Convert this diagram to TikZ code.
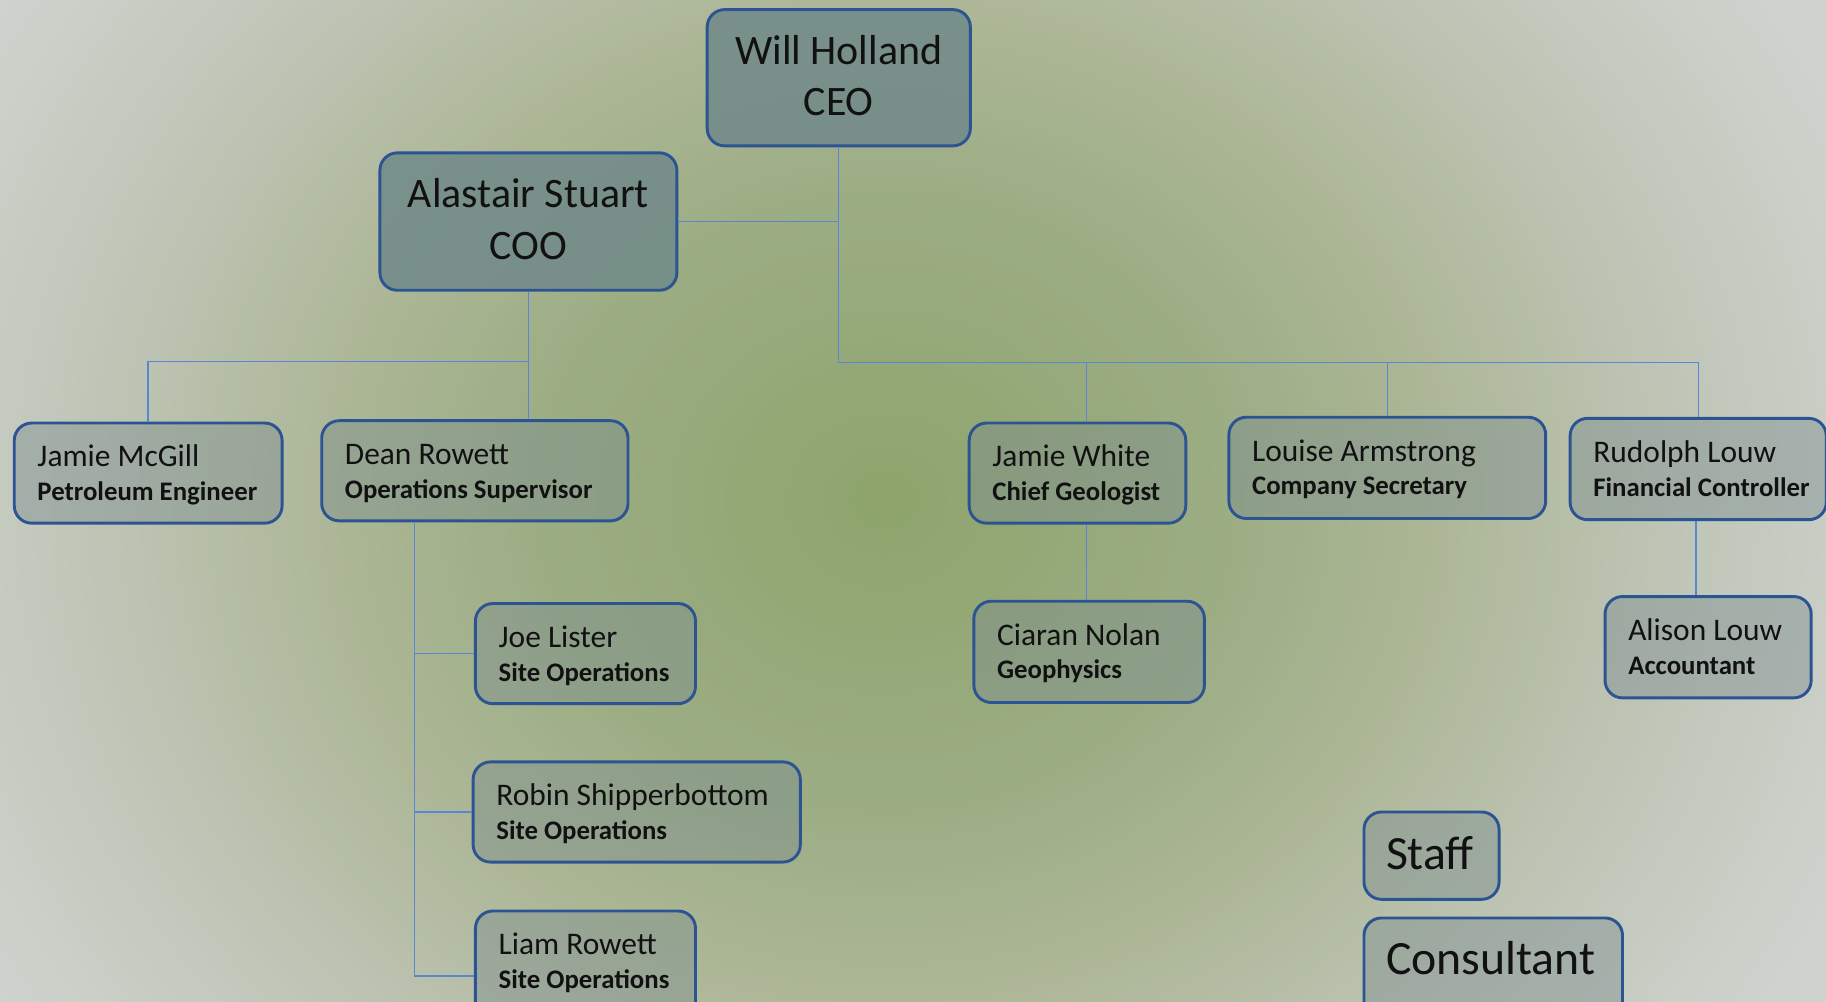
\documentclass[tikz,border=0pt]{standalone}
\usepackage{fontspec}
\setmainfont{Carlito}
\usetikzlibrary{calc}
\definecolor{bg0}{HTML}{8EA46C}
\definecolor{bg1}{HTML}{9CAD84}
\definecolor{bg2}{HTML}{ADB797}
\definecolor{bg3}{HTML}{BCC3B2}
\definecolor{bg4}{HTML}{C8CDC4}
\definecolor{bg5}{HTML}{CFD3CE}
\definecolor{boxblue}{HTML}{2C5492}
\definecolor{boxfill}{HTML}{7A8C8E}
\definecolor{topfill}{HTML}{708A88}
\definecolor{connblue}{HTML}{5A86D6}
\definecolor{txt}{HTML}{111111}
\pgfdeclareradialshading{bgshade}{\pgfpoint{0bp}{0bp}}{color(0bp)=(bg0); color(8.3bp)=(bg1); color(13.3bp)=(bg2); color(18bp)=(bg3); color(22.2bp)=(bg4); color(25bp)=(bg5); color(50bp)=(bg5)}
\begin{document}
\begin{tikzpicture}[x=1pt,y=-1pt,
  box/.style={draw=boxblue, line width=2.5pt, rounded corners=15pt, fill=boxfill, fill opacity=0.43, anchor=north west, inner sep=0pt},
  topbox/.style={box, fill=topfill, fill opacity=0.85},
  conn/.style={draw=connblue, line width=1.2pt},
  nm/.style={anchor=base west, inner sep=0pt, font=\fontsize{27}{32}\selectfont, text=txt},
  ttl/.style={anchor=base west, inner sep=0pt, font=\fontsize{23}{28}\selectfont\bfseries, text=txt},
  big/.style={anchor=base, inner sep=0pt, font=\fontsize{36}{43}\selectfont, text=txt},
  leg/.style={anchor=base west, inner sep=0pt, font=\fontsize{41}{48}\selectfont, text=txt}]
\useasboundingbox (0,0) rectangle (1568,860);
\begin{scope}
\clip (0,0) rectangle (1568,860);
\shade[shading=bgshade] (-140,-370) rectangle (1660,1230);

% boxes (geometry)
\path
  node[topbox, minimum width=226, minimum height=117] (ceo) at (606,7) {}
  node[topbox, minimum width=255, minimum height=118] (coo) at (325,130) {}
  node[box, minimum width=230, minimum height=86] (mcgill) at (11,362) {}
  node[box, minimum width=263, minimum height=86] (dean) at (275,360) {}
  node[box, minimum width=186, minimum height=86] (jwhite) at (831,362) {}
  node[box, minimum width=272, minimum height=87] (louise) at (1054,357) {}
  node[box, minimum width=220, minimum height=87] (rudolph) at (1347,358) {}
  node[box, minimum width=189, minimum height=86] (joe) at (407,517) {}
  node[box, minimum width=281, minimum height=86] (robin) at (405,653) {}
  node[box, minimum width=189, minimum height=112] (liam) at (407,781) {}
  node[box, minimum width=198, minimum height=87] (ciaran) at (835,515) {}
  node[box, minimum width=177, minimum height=87] (alison) at (1377,511) {}
  node[box, minimum width=116, minimum height=75] (staff) at (1170,696) {}
  node[box, minimum width=222, minimum height=90] (consult) at (1170,787) {};

% connectors
\path (ceo.south) ++(0,185) coordinate (bar);
\path (bar) ++(212.5,0) coordinate (jwbar);
\path (coo.south) ++(0,60) coordinate (cbar);
\path (dean.south) ++(-52,0) coordinate (dtop);
\path (rudolph.south) ++(-2,0) coordinate (rbot);
\draw[conn] (ceo.south) -- (bar) -- (bar -| rudolph.north) -- (rudolph.north);
\draw[conn] (coo.east) -- (coo.east -| ceo.south);
\draw[conn] (bar -| louise.north) -- (louise.north);
\draw[conn] (jwbar) -- (jwbar |- jwhite.north);
\draw[conn] (jwbar |- jwhite.south) -- (jwbar |- ciaran.north);
\draw[conn] (rbot) -- (rbot |- alison.north);
\draw[conn] (coo.south) -- (coo.south |- dean.north);
\draw[conn] (cbar) -- (cbar -| mcgill.north) -- (mcgill.north);
\draw[conn] (dtop) -- (dtop |- liam.west) -- (liam.west);
\draw[conn] (dtop |- joe.west) -- (joe.west);
\draw[conn] (dtop |- robin.west) -- (robin.west);

% texts
\node[big] at ($(ceo.north)+(0,48)$) {Will Holland};
\node[big] at ($(ceo.north)+(0,92)$) {CEO};
\node[big] at ($(coo.north)+(0,48.5)$) {Alastair Stuart};
\node[big] at ($(coo.north)+(0,92.5)$) {COO};
\node[nm] at ($(mcgill.north west)+(21,39)$) {Jamie McGill};
\node[ttl] at ($(mcgill.north west)+(21,68)$) {Petroleum Engineer};
\node[nm] at ($(dean.north west)+(21,39)$) {Dean Rowett};
\node[ttl] at ($(dean.north west)+(21,68)$) {Operations Supervisor};
\node[nm] at ($(jwhite.north west)+(21,39)$) {Jamie White};
\node[ttl] at ($(jwhite.north west)+(21,68)$) {Chief Geologist};
\node[nm] at ($(louise.north west)+(21,39)$) {Louise Armstrong};
\node[ttl] at ($(louise.north west)+(21,68)$) {Company Secretary};
\node[nm] at ($(rudolph.north west)+(21,39)$) {Rudolph Louw};
\node[ttl] at ($(rudolph.north west)+(21,68)$) {Financial Controller};
\node[nm] at ($(joe.north west)+(21,39)$) {Joe Lister};
\node[ttl] at ($(joe.north west)+(21,68)$) {Site Operations};
\node[nm] at ($(robin.north west)+(21,39)$) {Robin Shipperbottom};
\node[ttl] at ($(robin.north west)+(21,68)$) {Site Operations};
\node[nm] at ($(liam.north west)+(21,39)$) {Liam Rowett};
\node[ttl] at ($(liam.north west)+(21,68)$) {Site Operations};
\node[nm] at ($(ciaran.north west)+(21,39)$) {Ciaran Nolan};
\node[ttl] at ($(ciaran.north west)+(21,68)$) {Geophysics};
\node[nm] at ($(alison.north west)+(21,39)$) {Alison Louw};
\node[ttl] at ($(alison.north west)+(21,68)$) {Accountant};
\node[leg] at ($(staff.north west)+(20,51)$) {Staff};
\node[leg] at ($(consult.north west)+(20,50)$) {Consultant};
\end{scope}
\end{tikzpicture}
\end{document}
